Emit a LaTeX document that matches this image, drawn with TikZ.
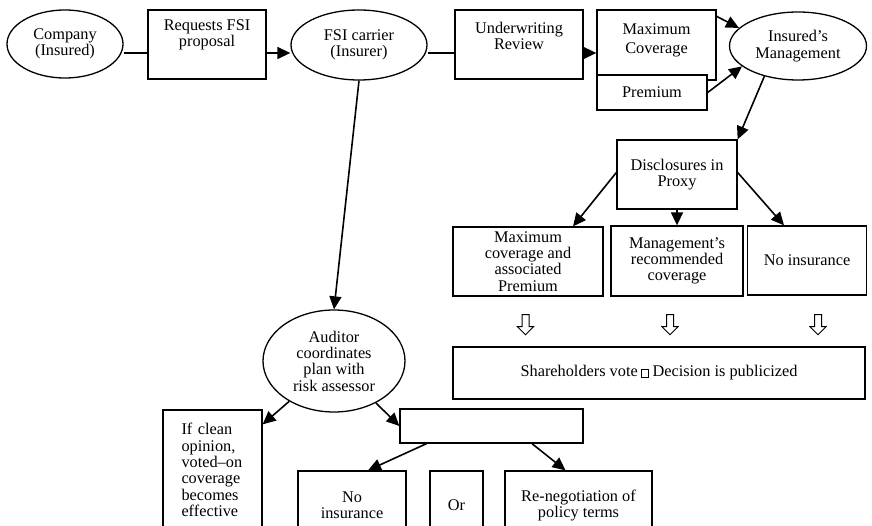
\documentclass[tikz,border=0pt]{standalone}
\usepackage{fontspec}
\setmainfont{Liberation Serif}
\usetikzlibrary{shapes.geometric, shapes.arrows, arrows.meta, positioning}
\newcommand{\votebox}{{\setlength{\fboxsep}{0pt}\setlength{\fboxrule}{1pt}\fbox{\rule{0pt}{7pt}\hspace{6pt}}}}

\begin{document}
\begin{tikzpicture}[x=1pt, y=-1pt,
      font=\fontsize{16.3}{16.3}\selectfont,
      oval/.style={draw, ellipse, line width=1.3pt, inner sep=0pt, align=center},
      box/.style={draw, rectangle, line width=1.3pt, inner sep=0pt, align=center, fill=white},
      toptext/.style={anchor=north, align=center},
      arr/.style={line width=1.6pt, -{Triangle[length=13pt, width=12pt]}},
      plain/.style={line width=1.6pt},
      hollow/.style={draw, single arrow, shape border rotate=270, minimum height=20pt,
        minimum width=15pt, single arrow head extend=4.5pt, inner sep=3pt, line width=1pt}
    ]
    \useasboundingbox (0,0) rectangle (872,526);
    \clip (0,0) rectangle (872,526);

      \node[oval, minimum width=116pt, minimum height=68pt] (comp) at (65,44) {Company\\(Insured)};
      \node[box, minimum width=118pt, minimum height=69pt,
        label={[toptext, yshift=-6.5pt]north:Requests FSI\\proposal}] (req) at (207,44.5) {};
      \node[oval, minimum width=136pt, minimum height=70pt] (carrier) at (359,45) {FSI carrier\\(Insurer)};
      \node[box, minimum width=128pt, minimum height=69pt,
        label={[toptext, yshift=-9.5pt]north:Underwriting\\Review}] (uw) at (519,44.5) {};
      \node[box, minimum width=119pt, minimum height=70pt,
        label={[toptext, yshift=-10.5pt, font=\fontsize{16.3}{19}\selectfont]north:Maximum\\Coverage}] (maxcov) at (656.5,45) {};
      \node[box, minimum width=110pt, minimum height=35pt] (prem) at (652,92.5) {Premium};
      \node[oval, minimum width=137pt, minimum height=68pt] (mgmt) at (798,46) {Insured's\\Management};

      \node[box, minimum width=120pt, minimum height=69pt] (disc) at (677,174.5) {Disclosures in\\Proxy};
      \node[box, minimum width=150pt, minimum height=69pt] (optmax) at (528,261.5) {Maximum\\coverage and\\associated\\Premium};
      \node[box, minimum width=132pt, minimum height=70pt] (optrec) at (677,261) {Management's\\recommended\\coverage};
      \node[box, minimum width=119pt, minimum height=69pt] (optnone) at (807,260.5) {No insurance};

      \node[hollow] (h1) at (525.5,323) {};
      \node[hollow] (h2) at (670,323) {};
      \node[hollow] (h3) at (818,323) {};

      \node[box, minimum width=412pt, minimum height=52pt] (vote) at (659,373) {Shareholders vote\,\votebox\ Decision is publicized};

      \node[oval, minimum width=142pt, minimum height=102pt] (aud) at (334,361) {Auditor\\coordinates\\plan with\\risk assessor};
      \node[box, minimum width=99pt, minimum height=120pt, text width=62pt, align=left] (clean) at (212.5,470) {If clean\\opinion,\\voted–on\\coverage\\becomes\\effective};
      \node[box, minimum width=183pt, minimum height=34pt] (blank) at (491.5,426) {};
      \node[box, minimum width=108pt, minimum height=69pt] (noins) at (352,505.5) {No\\insurance};
      \node[box, minimum width=53pt, minimum height=69pt] (orbox) at (456.5,505.5) {Or};
      \node[box, minimum width=147pt, minimum height=69pt] (reneg) at (578.5,505.5) {Re-negotiation of\\policy terms};

      \draw[plain] ([yshift=-9pt]comp.east) -- ([yshift=-8.5pt]req.west);
      \draw[arr] ([yshift=-8.5pt]req.east) -- ([yshift=-8pt]carrier.west);
      \draw[plain] ([yshift=-8pt]carrier.east) -- ([yshift=-8.5pt]uw.west);
      \draw[arr] ([yshift=-8.5pt]uw.east) -- ([yshift=-8pt]maxcov.west);
      \draw[arr] ([yshift=-7pt]maxcov.north east) -- (mgmt.163);
      \draw[arr] (prem.east) -- (mgmt.200);
      \draw[arr] (mgmt.222) -- (disc.north east);
      \draw[arr] ([yshift=2pt]disc.west) -- ([xshift=45pt]optmax.north);
      \draw[arr] (disc.south) -- (optrec.north);
      \draw[arr] ([yshift=2pt]disc.east) -- ([xshift=-23pt]optnone.north);
      \draw[arr] (carrier.south) -- (aud.north);
      \draw[arr] (aud.222) -- ([yshift=-15pt]clean.north east);
      \draw[arr] (aud.315) -- (blank.west);
      \draw[arr] ([xshift=-65pt]blank.south) -- ([xshift=16pt]noins.north);
      \draw[arr] ([xshift=40.5pt]blank.south) -- ([xshift=-13pt]reneg.north);

    \end{tikzpicture}
\end{document}
